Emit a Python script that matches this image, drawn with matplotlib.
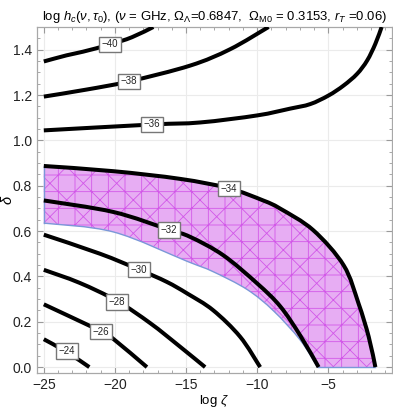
import matplotlib
matplotlib.use("Agg")
import matplotlib.pyplot as plt
import numpy as np
from matplotlib.path import Path
from matplotlib.patches import PathPatch
from matplotlib.ticker import MultipleLocator, FuncFormatter

plt.rcParams['font.family'] = ['Liberation Sans', 'DejaVu Sans']
plt.rcParams['mathtext.fontset'] = 'custom'
plt.rcParams['mathtext.rm'] = 'Liberation Sans'
plt.rcParams['mathtext.it'] = 'Liberation Sans:italic'
plt.rcParams['mathtext.bf'] = 'Liberation Sans:bold'
plt.rcParams['hatch.linewidth'] = 0.6

# ---- contour data (log zeta, delta) ----
levels = [-40, -38, -36, -34, -32, -30, -28, -26, -24]

c40_x = [-25, -23.4, -22.25, -20.35, -18.8, -17.3]
c40_y = [1.348, 1.375, 1.391, 1.423, 1.455, 1.5]
c38_x = [-25, -22, -19.0, -14.7, -11.9, -9.2]
c38_y = [1.193, 1.224, 1.26, 1.33, 1.402, 1.5]
c36_x = [-25, -17.4, -14.0, -10.0, -7.68, -6.27, -4.98, -3.92, -2.98, -2.27, -1.69, -1.25]
c36_y = [1.044, 1.07, 1.079, 1.11, 1.14, 1.16, 1.198, 1.242, 1.293, 1.352, 1.426, 1.5]
c34_x = [-25, -20.1, -15.4, -12.0, -9.58, -8.38, -6.06, -3.92, -2.87, -2.16, -1.69]
c34_y = [0.887, 0.864, 0.83, 0.789, 0.735, 0.699, 0.604, 0.449, 0.28, 0.134, 0.0]
c32_x = [-25, -20.1, -16.2, -14.7, -12.4, -10.0, -8.38, -6.97, -5.68]
c32_y = [0.735, 0.684, 0.606, 0.574, 0.494, 0.369, 0.268, 0.139, 0.0]
c30_x = [-25, -21.05, -18.3, -16.36, -14.9, -13.1, -11.2, -9.79]
c30_y = [0.584, 0.5, 0.43, 0.376, 0.324, 0.251, 0.134, 0.0]
c28_x = [-25, -22.5, -19.86, -17.5, -15.5, -13.66]
c28_y = [0.429, 0.372, 0.292, 0.193, 0.094, 0.0]
c26_x = [-25, -21.6, -20.96, -20.2, -17.75]
c26_y = [0.277, 0.177, 0.156, 0.129, 0.0]
c24_x = [-25, -23.4, -21.8]
c24_y = [0.123, 0.067, 0.0]

# lower boundary of the shaded band
band_low_x = [-25, -20.1, -14.9, -13.1, -10.7, -8.85, -6.97, -5.75]
band_low_y = [0.635, 0.596, 0.466, 0.421, 0.342, 0.248, 0.119, 0.0]

# contour label positions
lab_x = [-20.35, -19.0, -17.4, -11.97, -16.2, -18.3, -19.86, -20.96, -23.4]
lab_y = [1.423, 1.26, 1.07, 0.787, 0.604, 0.43, 0.287, 0.156, 0.071]

xticks = [-25, -20, -15, -10, -5]
yticks = [0.0, 0.2, 0.4, 0.6, 0.8, 1.0, 1.2, 1.4]


def smooth_path(xs, ys, start_code=Path.MOVETO):
    """Smooth (Catmull-Rom as cubic Bezier) path through the given points."""
    p = np.column_stack([xs, ys]).astype(float)
    n = len(p)
    ext = np.vstack([p[0], p, p[-1]])
    verts = [p[0]]
    codes = [start_code]
    for i in range(n - 1):
        p0, p1, p2, p3 = ext[i], ext[i + 1], ext[i + 2], ext[i + 3]
        c1 = p1 + (p2 - p0) / 6.0
        c2 = p2 - (p3 - p1) / 6.0
        verts += [c1, c2, p2]
        codes += [Path.CURVE4] * 3
    return verts, codes


fig = plt.figure(figsize=(3.93, 4.09), dpi=100)
ax = fig.add_axes([0.0941, 0.088, 0.9034, 0.846])

# shaded band
v1, k1 = smooth_path(c34_x, c34_y)
v2, k2 = smooth_path(band_low_x[::-1], band_low_y[::-1], start_code=Path.LINETO)
verts = v1 + v2 + [v1[0]]
codes = k1 + k2 + [Path.CLOSEPOLY]
band = PathPatch(Path(verts, codes), facecolor='#E7ADF3', edgecolor='#D258E8',
                 hatch='+x', linewidth=0, zorder=2)
ax.add_patch(band)
vl, kl = smooth_path(band_low_x, band_low_y)
ax.add_patch(PathPatch(Path(vl, kl), facecolor='none', edgecolor='#7B98D8', lw=1.0, zorder=3))
ax.plot([-25, -25], [band_low_y[0], c34_y[0]], color='#7B98D8', lw=1.0, zorder=3)
ax.plot([band_low_x[-1], c34_x[-1]], [0, 0], color='#7B98D8', lw=1.0, zorder=3)

curves = [(c40_x, c40_y), (c38_x, c38_y), (c36_x, c36_y), (c34_x, c34_y),
          (c32_x, c32_y), (c30_x, c30_y), (c28_x, c28_y), (c26_x, c26_y),
          (c24_x, c24_y)]
for cx, cy in curves:
    vv, kk = smooth_path(cx, cy)
    ax.add_patch(PathPatch(Path(vv, kk), facecolor='none', edgecolor='black',
                           lw=2.9, capstyle='butt', zorder=4))

for lv, lx, ly in zip(levels, lab_x, lab_y):
    ax.text(lx, ly, '\u2212%d' % abs(lv), fontsize=7, ha='center', va='center',
            zorder=6, color='#222222',
            bbox=dict(boxstyle='square,pad=0.28', fc='white', ec='#777777', lw=1.0))

ax.set_xlim(-25.48, -0.52)
ax.set_ylim(-0.026, 1.5)
ax.set_xticks(xticks)
ax.set_yticks(yticks)
ax.xaxis.set_minor_locator(MultipleLocator(1))
ax.yaxis.set_minor_locator(MultipleLocator(0.05))
ax.xaxis.set_major_formatter(FuncFormatter(lambda v, p: ('\u2212%d' % abs(v)) if v < 0 else '%d' % v))
ax.yaxis.set_major_formatter(FuncFormatter(lambda v, p: '%.1f' % v))
ax.grid(True, which='major', color='#EBEBEB', lw=0.8, zorder=0)
ax.set_axisbelow(True)
ax.tick_params(which='both', direction='in', top=True, right=True, color='#9A9A9A',
               labelsize=10, labelcolor='#222222')
ax.tick_params(which='major', length=4, width=0.8)
ax.tick_params(which='minor', length=2, width=0.6)
for s in ax.spines.values():
    s.set_color('#A8A8A8')
    s.set_linewidth(0.9)

ax.set_xlabel(r'log $\zeta$', fontsize=9.5, labelpad=1)
ax.set_ylabel(r'$\delta$', fontsize=10.5)
ax.yaxis.set_label_coords(-0.062, 0.5)
ax.set_title(r'log $h_c(\nu,\tau_0)$, ($\nu$ = GHz, $\Omega_\Lambda$=0.6847,  $\Omega_{\rm M0}$ = 0.3153, $r_T$ =0.06)',
             fontsize=9.45, pad=5)

fig.savefig('out.png', dpi=100)
